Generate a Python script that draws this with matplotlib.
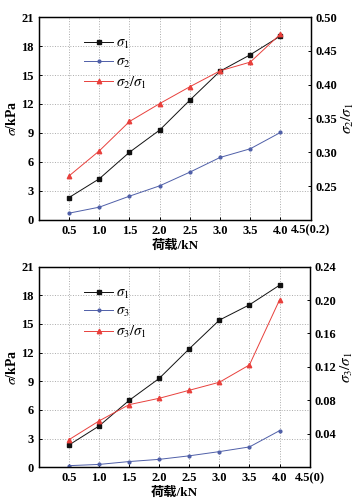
import matplotlib
matplotlib.use('Agg')
import matplotlib.pyplot as plt
from matplotlib.ticker import FixedLocator, FixedFormatter

plt.rcParams['font.family'] = ['Liberation Serif', 'Noto Sans CJK SC']
plt.rcParams['mathtext.fontset'] = 'stix'
plt.rcParams['font.size'] = 8.5

# 荷载 (kN)
load = [0.5, 1.0, 1.5, 2.0, 2.5, 3.0, 3.5, 4.0]

# 上图
sigma1_a = [2.31, 4.25, 7.0, 9.3, 12.4, 15.4, 17.1, 19.05]
sigma2_a = [0.69, 1.31, 2.45, 3.52, 4.94, 6.46, 7.36, 9.05]
ratio21 = [0.265, 0.302, 0.3455, 0.372, 0.397, 0.4205, 0.4334, 0.475]

# 下图
sigma1_b = [2.33, 4.32, 7.0, 9.3, 12.4, 15.4, 17.0, 19.05]
sigma3_b = [0.17, 0.3, 0.6, 0.83, 1.2, 1.64, 2.13, 3.83]
ratio31 = [0.033, 0.0554, 0.0749, 0.0825, 0.0921, 0.1017, 0.1224, 0.2001]

x_ticks = [0.5, 1.0, 1.5, 2.0, 2.5, 3.0, 3.5, 4.0, 4.5]
left_ticks = [0, 3, 6, 9, 12, 15, 18, 21]

c_black = '#111111'
c_blue = '#4f5fa8'
c_red = '#e8403c'

fig = plt.figure(figsize=(3.6, 5.03), dpi=100)


def panel(rect, s1, s2, ratio, lab2, ratio_lab, rlim, rticks, last_xlab):
    ax = fig.add_axes(rect)
    ax.plot(load, s1, color=c_black, marker='s', ms=2.6, lw=0.7, label=r'$\sigma_1$')
    ax.plot(load, s2, color=c_blue, marker='o', ms=2.0, lw=0.7, label=lab2)
    ax2 = ax.twinx()
    ax2.plot(load, ratio, color=c_red, marker='^', ms=3.2, lw=0.7)
    # entree de legende pour la courbe du rapport
    ax.plot([], [], color=c_red, marker='^', ms=3.2, lw=0.7, label=ratio_lab)

    ax.set_xlim(0, 4.5)
    ax.set_ylim(0, 21)
    ax2.set_ylim(*rlim)
    ax.xaxis.set_major_locator(FixedLocator(x_ticks))
    ax.xaxis.set_major_formatter(FixedFormatter(['0.5', '1.0', '1.5', '2.0', '2.5', '3.0',
                                                 '3.5', '4.0', last_xlab]))
    ax.set_yticks(left_ticks)
    ax2.set_yticks(rticks)
    ax2.set_yticklabels(['%.2f' % t for t in rticks])
    ax.grid(True, color='#aaaaaa', ls=':', lw=0.7)
    for a in (ax, ax2):
        a.tick_params(direction='in', length=2.5, width=0.7, labelsize=9)
        for lbl in a.get_xticklabels() + a.get_yticklabels():
            lbl.set_fontweight('bold')
        for sp in a.spines.values():
            sp.set_linewidth(0.9)
    ax.set_ylabel(r'$\sigma$/kPa', fontsize=10, fontweight='bold', labelpad=2)
    ax2.set_ylabel(ratio_lab, fontsize=11, labelpad=2)
    ax.set_xlabel('荷载/kN', fontsize=9.5, fontweight='bold', labelpad=2)
    ax.legend(loc='upper left', bbox_to_anchor=(0.145, 0.93), frameon=False, fontsize=10.5,
              handlelength=2.0, handletextpad=0.2, labelspacing=0.3, borderaxespad=0)
    return ax


panel([0.108, 0.563, 0.755, 0.403], sigma1_a, sigma2_a, ratio21,
      r'$\sigma_2$', r'$\sigma_2/\sigma_1$', (0.2, 0.5),
      [0.25, 0.30, 0.35, 0.40, 0.45, 0.50], '4.5(0.2)')
panel([0.108, 0.071, 0.752, 0.399], sigma1_b, sigma3_b, ratio31,
      r'$\sigma_3$', r'$\sigma_3/\sigma_1$', (0, 0.24),
      [0.04, 0.08, 0.12, 0.16, 0.20, 0.24], '4.5(0)')

fig.savefig('out.png', dpi=100)
